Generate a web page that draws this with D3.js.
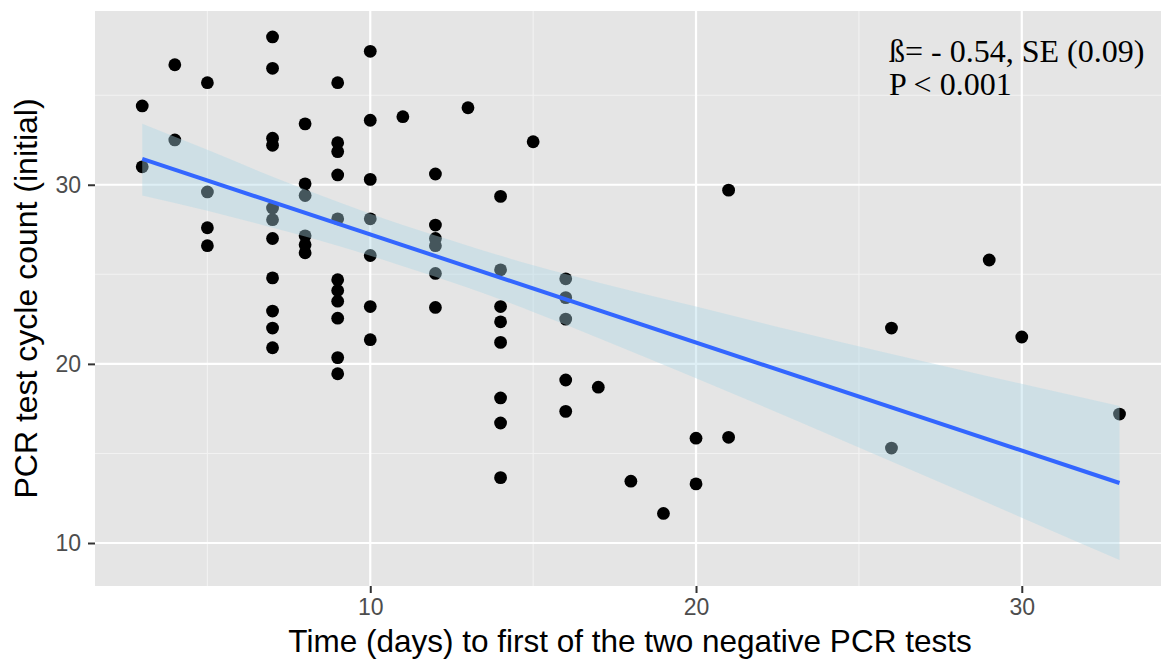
<!DOCTYPE html>
<html>
<head>
<meta charset="utf-8">
<script src="https://cdn.jsdelivr.net/npm/d3@7"></script>
<style>
  body { margin: 0; background: #fff; }
  svg { display: block; }
</style>
</head>
<body>
<div id="chart"></div>
<script>
// days to first negative test, and the initial cycle count
var dayX = [
  3, 3,
  4, 4,
  5, 5, 5, 5,
  7, 7, 7, 7, 7, 7, 7, 7, 7, 7, 7,
  8, 8, 8, 8, 8, 8,
  9, 9, 9, 9, 9, 9, 9, 9, 9, 9, 9,
  10, 10, 10, 10, 10, 10, 10,
  11,
  12, 12, 12, 12, 12, 12,
  13,
  14, 14, 14, 14, 14, 14, 14, 14,
  15,
  16, 16, 16, 16, 16,
  17, 18, 19,
  20, 20,
  21, 21,
  26, 26,
  29, 30, 33
];
var cycleY = [
  34.4, 31.0,
  36.7, 32.5,
  35.7, 29.6, 27.6, 26.6,
  38.25, 36.5, 32.6, 32.2, 28.7, 28.05, 27.0, 24.8, 22.95, 22.0, 20.9,
  33.4, 30.05, 29.4, 27.15, 26.65, 26.2,
  35.7, 32.35, 31.85, 30.55, 28.1, 24.7, 24.1, 23.5, 22.55, 20.35, 19.45,
  37.45, 33.6, 30.3, 28.1, 26.05, 23.2, 21.35,
  33.8,
  30.6, 27.75, 27.0, 26.6, 25.05, 23.15,
  34.3,
  29.35, 25.25, 23.2, 22.35, 21.2, 18.1, 16.7, 13.65,
  32.4,
  24.75, 23.7, 22.5, 19.1, 17.35,
  18.7, 13.45, 11.65,
  15.85, 13.3,
  29.7, 15.9,
  22.0, 15.3,
  25.8, 21.5, 17.2
];

// fitted line and its confidence band, read at a few x positions
var fitX = [3, 33];
var fitY = [31.45, 13.35];
var bandX = [3, 5, 7, 9, 11, 13, 15, 17, 20, 23, 26, 29, 33];
var bandHi = [33.4, 31.95, 30.45, 29.05, 27.75, 26.6, 25.5, 24.55, 23.2, 21.85, 20.55, 19.3, 17.65];
var bandLo = [29.4, 28.55, 27.6, 26.6, 25.45, 24.25, 22.9, 21.45, 19.2, 16.9, 14.55, 12.2, 9.05];

var xMajor = [10, 20, 30];
var xMinor = [5, 15, 25];
var yMajor = [10, 20, 30];
var yMinor = [15, 25, 35];

var noteLines = ["ß= - 0.54, SE (0.09)", "P < 0.001"];

var W = 1161, H = 662;
var panel = { left: 95, top: 11, right: 1170, bottom: 586 };

var x = d3.scaleLinear().domain([1.55, 34.55]).range([panel.left, panel.right]);
var y = d3.scaleLinear().domain([7.6, 39.7]).range([panel.bottom, panel.top]);

var svg = d3.select("#chart").append("svg")
  .attr("width", W)
  .attr("height", H);

svg.append("defs").append("clipPath").attr("id", "clip")
  .append("rect")
  .attr("x", panel.left).attr("y", panel.top)
  .attr("width", panel.right - panel.left)
  .attr("height", panel.bottom - panel.top);

var plot = svg.append("g").attr("clip-path", "url(#clip)");

plot.append("rect")
  .attr("x", panel.left).attr("y", panel.top)
  .attr("width", panel.right - panel.left)
  .attr("height", panel.bottom - panel.top)
  .attr("fill", "#e5e5e5");

// grid: minor first, major over it
plot.selectAll(".xminor").data(xMinor).enter().append("line")
  .attr("x1", d => x(d)).attr("x2", d => x(d))
  .attr("y1", panel.top).attr("y2", panel.bottom)
  .attr("stroke", "#f2f2f2").attr("stroke-width", 1.1);
plot.selectAll(".yminor").data(yMinor).enter().append("line")
  .attr("y1", d => y(d)).attr("y2", d => y(d))
  .attr("x1", panel.left).attr("x2", panel.right)
  .attr("stroke", "#f2f2f2").attr("stroke-width", 1.1);
plot.selectAll(".xmajor").data(xMajor).enter().append("line")
  .attr("x1", d => x(d)).attr("x2", d => x(d))
  .attr("y1", panel.top).attr("y2", panel.bottom)
  .attr("stroke", "#fff").attr("stroke-width", 2.2);
plot.selectAll(".ymajor").data(yMajor).enter().append("line")
  .attr("y1", d => y(d)).attr("y2", d => y(d))
  .attr("x1", panel.left).attr("x2", panel.right)
  .attr("stroke", "#fff").attr("stroke-width", 2.2);

var pts = dayX.map((d, i) => ({ x: d, y: cycleY[i] }));
plot.selectAll("circle").data(pts).enter().append("circle")
  .attr("cx", d => x(d.x))
  .attr("cy", d => y(d.y))
  .attr("r", 6.4)
  .attr("fill", "#000");

// band drawn over the points, like geom_smooth does
var band = bandX.map((d, i) => ({ x: d, hi: bandHi[i], lo: bandLo[i] }));
plot.append("path")
  .datum(band)
  .attr("fill", "#add8e6")
  .attr("fill-opacity", 0.4)
  .attr("d", d3.area()
    .x(d => x(d.x))
    .y0(d => y(d.lo))
    .y1(d => y(d.hi))
    .curve(d3.curveMonotoneX));

plot.append("path")
  .datum(fitX.map((d, i) => [d, fitY[i]]))
  .attr("fill", "none")
  .attr("stroke", "#3366ff")
  .attr("stroke-width", 4)
  .attr("d", d3.line().x(d => x(d[0])).y(d => y(d[1])));

plot.selectAll(".note").data(noteLines).enter().append("text")
  .attr("x", 889)
  .attr("y", (d, i) => 62 + i * 33)
  .attr("font-family", "'Liberation Serif', 'Times New Roman', serif")
  .attr("font-size", 32)
  .attr("fill", "#000")
  .text(d => d);

// axes
var xAxis = svg.append("g")
  .attr("transform", "translate(0," + panel.bottom + ")")
  .call(d3.axisBottom(x).tickValues(xMajor).tickSize(7).tickPadding(6).tickFormat(d3.format("d")));
var yAxis = svg.append("g")
  .attr("transform", "translate(" + panel.left + ",0)")
  .call(d3.axisLeft(y).tickValues(yMajor).tickSize(7).tickPadding(7).tickFormat(d3.format("d")));

[xAxis, yAxis].forEach(function (g) {
  g.select(".domain").remove();
  g.selectAll(".tick line").attr("stroke", "#333").attr("stroke-width", 2);
  g.selectAll(".tick text")
    .attr("fill", "#4d4d4d")
    .attr("font-family", "'Liberation Sans', Arial, sans-serif")
    .attr("font-size", 23);
});

svg.append("text")
  .attr("x", 630)
  .attr("y", 652)
  .attr("text-anchor", "middle")
  .attr("font-family", "'Liberation Sans', Arial, sans-serif")
  .attr("font-size", 31.5)
  .attr("fill", "#000")
  .text("Time (days) to first of the two negative PCR tests");

svg.append("text")
  .attr("transform", "translate(37," + (panel.top + panel.bottom) / 2 + ") rotate(-90)")
  .attr("text-anchor", "middle")
  .attr("font-family", "'Liberation Sans', Arial, sans-serif")
  .attr("font-size", 32)
  .attr("fill", "#000")
  .text("PCR test cycle count (initial)");
</script>
</body>
</html>
